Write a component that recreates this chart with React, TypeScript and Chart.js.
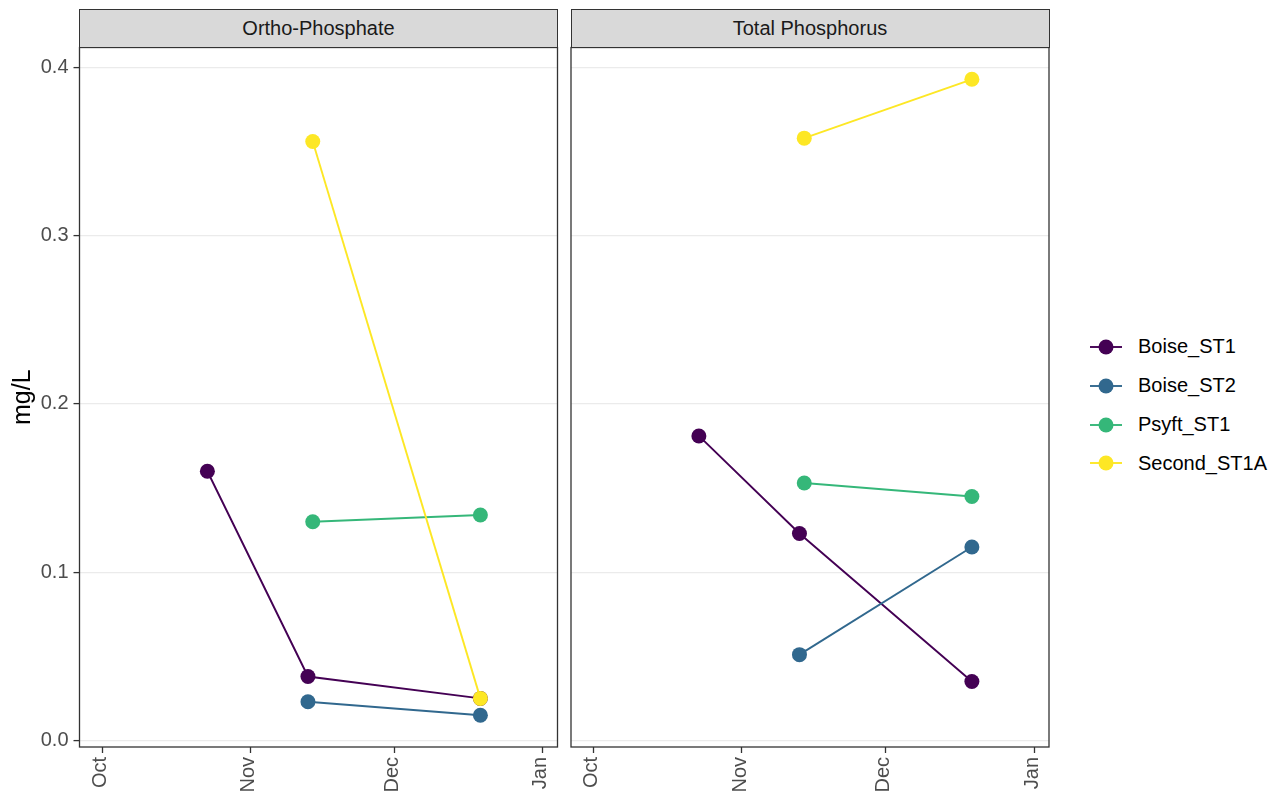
import React, { useEffect, useRef } from "react";
import { Chart, registerables } from "chart.js";

Chart.register(...registerables);

// ---------- data ----------
const PANELS = ["Ortho-Phosphate", "Total Phosphorus"];
const SITES = ["Boise_ST1", "Boise_ST2", "Psyft_ST1", "Second_ST1A"];
const SITE_COLORS = ["#440154", "#31688E", "#35B779", "#FDE725"];

const BOISE_ST1_DATES = ["2020-10-23", "2020-11-13", "2020-12-19"];
const BOISE_ST2_DATES = ["2020-11-13", "2020-12-19"];
const PSYFT_ST1_DATES = ["2020-11-14", "2020-12-19"];
const SECOND_ST1A_DATES = ["2020-11-14", "2020-12-19"];

const ORTHO_BOISE_ST1 = [0.16, 0.038, 0.025];
const ORTHO_BOISE_ST2 = [0.023, 0.015];
const ORTHO_PSYFT_ST1 = [0.13, 0.134];
const ORTHO_SECOND_ST1A = [0.356, 0.025];

const TP_BOISE_ST1 = [0.181, 0.123, 0.035];
const TP_BOISE_ST2 = [0.051, 0.115];
const TP_PSYFT_ST1 = [0.153, 0.145];
const TP_SECOND_ST1A = [0.358, 0.393];

const X_TICK_DATES = ["2020-10-01", "2020-11-01", "2020-12-01", "2021-01-01"];
const X_TICK_LABELS = ["Oct", "Nov", "Dec", "Jan"];
const Y_TICKS = [0, 0.1, 0.2, 0.3, 0.4];
const Y_TITLE = "mg/L";

// ---------- helpers ----------
const SITE_DATES = [BOISE_ST1_DATES, BOISE_ST2_DATES, PSYFT_ST1_DATES, SECOND_ST1A_DATES];
const PANEL_VALUES = [
  [ORTHO_BOISE_ST1, ORTHO_BOISE_ST2, ORTHO_PSYFT_ST1, ORTHO_SECOND_ST1A],
  [TP_BOISE_ST1, TP_BOISE_ST2, TP_PSYFT_ST1, TP_SECOND_ST1A],
];

const dayOf = (d: string) =>
  (Date.parse(d + "T00:00:00Z") - Date.parse(X_TICK_DATES[0] + "T00:00:00Z")) / 86400000;

const allVals = PANEL_VALUES.flat(2);
const vMin = Math.min(...allVals);
const vMax = Math.max(...allVals);
const Y_MIN = vMin - (vMax - vMin) * 0.05;
const Y_MAX = vMax + (vMax - vMin) * 0.05;
const X_MIN = -4.7;
const X_MAX = 95.1;

const FONT = "'Liberation Sans', Arial, Helvetica, sans-serif";
const SMALL = 20;

const panelBox = {
  id: "panelBox",
  afterDraw(chart: any) {
    const { ctx, chartArea: a } = chart;
    ctx.save();
    ctx.strokeStyle = "#333333";
    ctx.lineWidth = 1.3;
    ctx.strokeRect(a.left, a.top, a.right - a.left, a.bottom - a.top);
    ctx.restore();
  },
};

function makePanel(canvas: HTMLCanvasElement, p: number, showY: boolean) {
  const datasets = SITES.map((site, i) => ({
    label: site,
    data: SITE_DATES[i].map((d, j) => ({ x: dayOf(d), y: PANEL_VALUES[p][i][j] })),
    borderColor: SITE_COLORS[i],
    backgroundColor: SITE_COLORS[i],
    pointBackgroundColor: SITE_COLORS[i],
    pointBorderWidth: 0,
    pointRadius: 7.5,
    pointHoverRadius: 7.5,
    borderWidth: 1.9,
    tension: 0,
    fill: false,
    order: SITES.length - i,
  }));

  return new Chart(canvas, {
    type: "line",
    data: { datasets },
    plugins: [panelBox],
    options: {
      animation: false,
      responsive: false,
      events: [],
      layout: {
        autoPadding: false,
        padding: { top: 47.5, right: showY ? 2.5 : 1, bottom: 0, left: 0 },
      },
      plugins: {
        legend: { display: false },
        tooltip: { enabled: false },
        title: { display: false },
      },
      scales: {
        x: {
          type: "linear",
          min: X_MIN,
          max: X_MAX,
          afterBuildTicks: (s: any) => {
            s.ticks = X_TICK_DATES.map((d) => ({ value: dayOf(d) }));
          },
          afterFit: (s: any) => {
            s.height = 49;
            s.paddingLeft = 0;
            s.paddingRight = 0;
          },
          ticks: {
            autoSkip: false,
            minRotation: 90,
            maxRotation: 90,
            padding: 4,
            labelOffset: -2,
            color: "#4D4D4D",
            font: { family: FONT, size: SMALL },
            callback: (_v: any, idx: number) => X_TICK_LABELS[idx],
          },
          grid: {
            drawOnChartArea: false,
            tickColor: "#333333",
            tickLength: 6,
            tickWidth: 1.3,
          },
          border: { display: false },
        },
        y: {
          type: "linear",
          min: Y_MIN,
          max: Y_MAX,
          afterBuildTicks: (s: any) => {
            s.ticks = Y_TICKS.map((v) => ({ value: v }));
          },
          afterFit: (s: any) => {
            s.width = showY ? 79.5 : 11;
            s.paddingTop = 0;
            s.paddingBottom = 0;
          },
          ticks: {
            display: showY,
            padding: 5,
            color: "#4D4D4D",
            font: { family: FONT, size: SMALL },
            callback: (v: any) => Number(v).toFixed(1),
          },
          grid: {
            color: "#EBEBEB",
            lineWidth: 1.2,
            tickColor: "#333333",
            tickLength: showY ? 6 : 0,
            tickWidth: 1.3,
            drawTicks: showY,
          },
          border: { display: false },
          title: {
            display: showY,
            text: Y_TITLE,
            color: "#000000",
            font: { family: FONT, size: 25 },
            padding: { top: 8.5, bottom: 0 },
          },
        },
      },
    } as any,
  });
}

export default function App() {
  const leftRef = useRef<HTMLCanvasElement>(null);
  const rightRef = useRef<HTMLCanvasElement>(null);

  useEffect(() => {
    const c1 = makePanel(leftRef.current!, 0, true);
    const c2 = makePanel(rightRef.current!, 1, false);
    return () => {
      c1.destroy();
      c2.destroy();
    };
  }, []);

  const stripStyle = (left: number): React.CSSProperties => ({
    position: "absolute",
    left,
    top: 9,
    width: 479,
    height: 39,
    boxSizing: "border-box",
    border: "1.3px solid #333333",
    background: "#D9D9D9",
    color: "#1A1A1A",
    fontFamily: FONT,
    fontSize: SMALL,
    display: "flex",
    alignItems: "center",
    justifyContent: "center",
  });

  const legendTops = [346.5, 385.5, 424.5, 463];

  return (
    <div
      style={{
        position: "fixed",
        left: 0,
        top: 0,
        width: 1274,
        height: 796,
        background: "#ffffff",
        overflow: "hidden",
      }}
    >
      <canvas
        ref={leftRef}
        width={560}
        height={796}
        style={{ position: "absolute", left: 0, top: 0, width: 560, height: 796 }}
      />
      <canvas
        ref={rightRef}
        width={490}
        height={796}
        style={{ position: "absolute", left: 560, top: 0, width: 490, height: 796 }}
      />
      <div style={stripStyle(79)}>{PANELS[0]}</div>
      <div style={stripStyle(570.5)}>{PANELS[1]}</div>
      {SITES.map((site, i) => (
        <div
          key={site}
          style={{
            position: "absolute",
            left: 1090,
            top: legendTops[i] - 12,
            height: 24,
            display: "flex",
            alignItems: "center",
            fontFamily: FONT,
            fontSize: SMALL,
            color: "#000000",
            whiteSpace: "nowrap",
          }}
        >
          <svg width={32} height={24} style={{ display: "block" }}>
            <line x1={0} y1={12} x2={32} y2={12} stroke={SITE_COLORS[i]} strokeWidth={1.9} />
            <circle cx={16} cy={12} r={7.5} fill={SITE_COLORS[i]} />
          </svg>
          <span style={{ marginLeft: 16 }}>{site}</span>
        </div>
      ))}
    </div>
  );
}
